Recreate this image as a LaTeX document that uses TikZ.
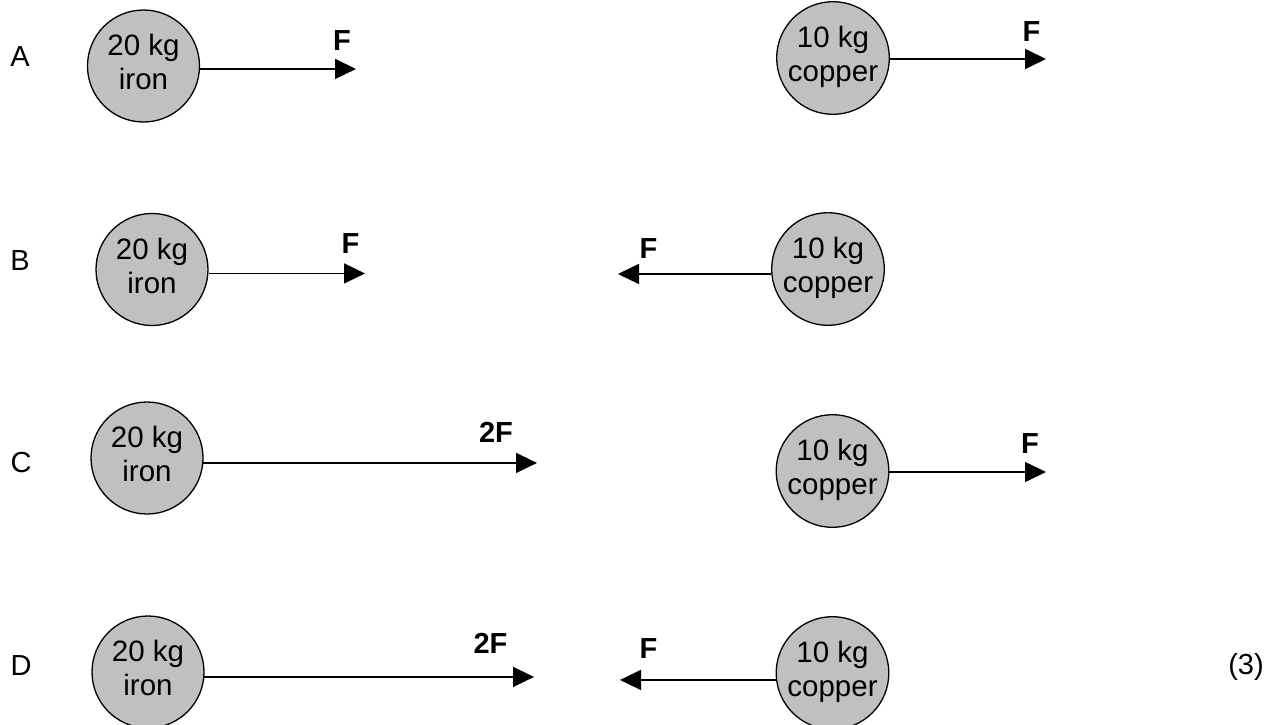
\documentclass[tikz,border=0pt]{standalone}
\usepackage{fontspec}
\setmainfont{Liberation Sans}
\usetikzlibrary{arrows.meta}
\definecolor{ballgray}{HTML}{C0C0C0}
\begin{document}
\begin{tikzpicture}[x=1pt,y=-1pt,
  ball/.style={circle,draw=black,line width=1.3pt,fill=ballgray,minimum size=112pt,inner sep=0pt,align=center,font=\fontsize{29.5}{34}\selectfont},
  force/.style={line width=1.6pt,-{Triangle[length=21pt,width=20pt]}},
  flabel/.style={font=\fontsize{29}{32}\selectfont\bfseries,inner sep=0pt},
  rowlabel/.style={font=\fontsize{29}{32}\selectfont,inner sep=0pt}]
\useasboundingbox (0,0) rectangle (1283,724);
% row labels
\node[rowlabel] (lA) at (20,57) {A};
\node[rowlabel] (lB) at (20,261) {B};
\node[rowlabel] (lC) at (21,463) {C};
\node[rowlabel] (lD) at (21,666) {D};
\node[rowlabel] (marks) at (1246,667) {(3)};
% balls
\node[ball] (iA) at (143.5,66) {\strut 20 kg\\\strut iron};
\node[ball] (cA) at (833,58) {\strut 10 kg\\\strut copper};
\node[ball] (iB) at (152,269.5) {\strut 20 kg\\\strut iron};
\node[ball] (cB) at (828,269) {\strut 10 kg\\\strut copper};
\node[ball] (iC) at (147,458) {\strut 20 kg\\\strut iron};
\node[ball] (cC) at (832.5,471) {\strut 10 kg\\\strut copper};
\node[ball] (iD) at (148,672) {\strut 20 kg\\\strut iron};
\node[ball] (cD) at (832.5,673) {\strut 10 kg\\\strut copper};
% arrow tips
\coordinate (tiA) at (356,69);
\coordinate (tcA) at (1046,59);
\coordinate (tiB) at (365,274);
\coordinate (tcB) at (618,274);
\coordinate (tiC) at (537,463);
\coordinate (tcC) at (1046,472);
\coordinate (tiD) at (534,677);
\coordinate (tcD) at (620,680);
% forces
\draw[force] (iA.-3) -- (iA.-3 -| tiA);
\draw[force] (cA.-1) -- (cA.-1 -| tcA);
\draw[force] (iB.-4.6) -- (iB.-4.6 -| tiB);
\draw[force] (cB.185.1) -- (cB.185.1 -| tcB);
\draw[force] (iC.-5.1) -- (iC.-5.1 -| tiC);
\draw[force] (cC.-1) -- (cC.-1 -| tcC);
\draw[force] (iD.-5.1) -- (iD.-5.1 -| tiD);
\draw[force] (cD.187.2) -- (cD.187.2 -| tcD);
% force labels
\node[flabel] (fiA) at (342,41) {F};
\node[flabel] (fcA) at (1031.5,32) {F};
\node[flabel] (fiB) at (350.5,244) {F};
\node[flabel] (fcB) at (648.5,249) {F};
\node[flabel] (fiC) at (496,432) {2F};
\node[flabel] (fcC) at (1030,444) {F};
\node[flabel] (fiD) at (490.5,643.5) {2F};
\node[flabel] (fcD) at (648.5,649) {F};
\end{tikzpicture}
\end{document}
